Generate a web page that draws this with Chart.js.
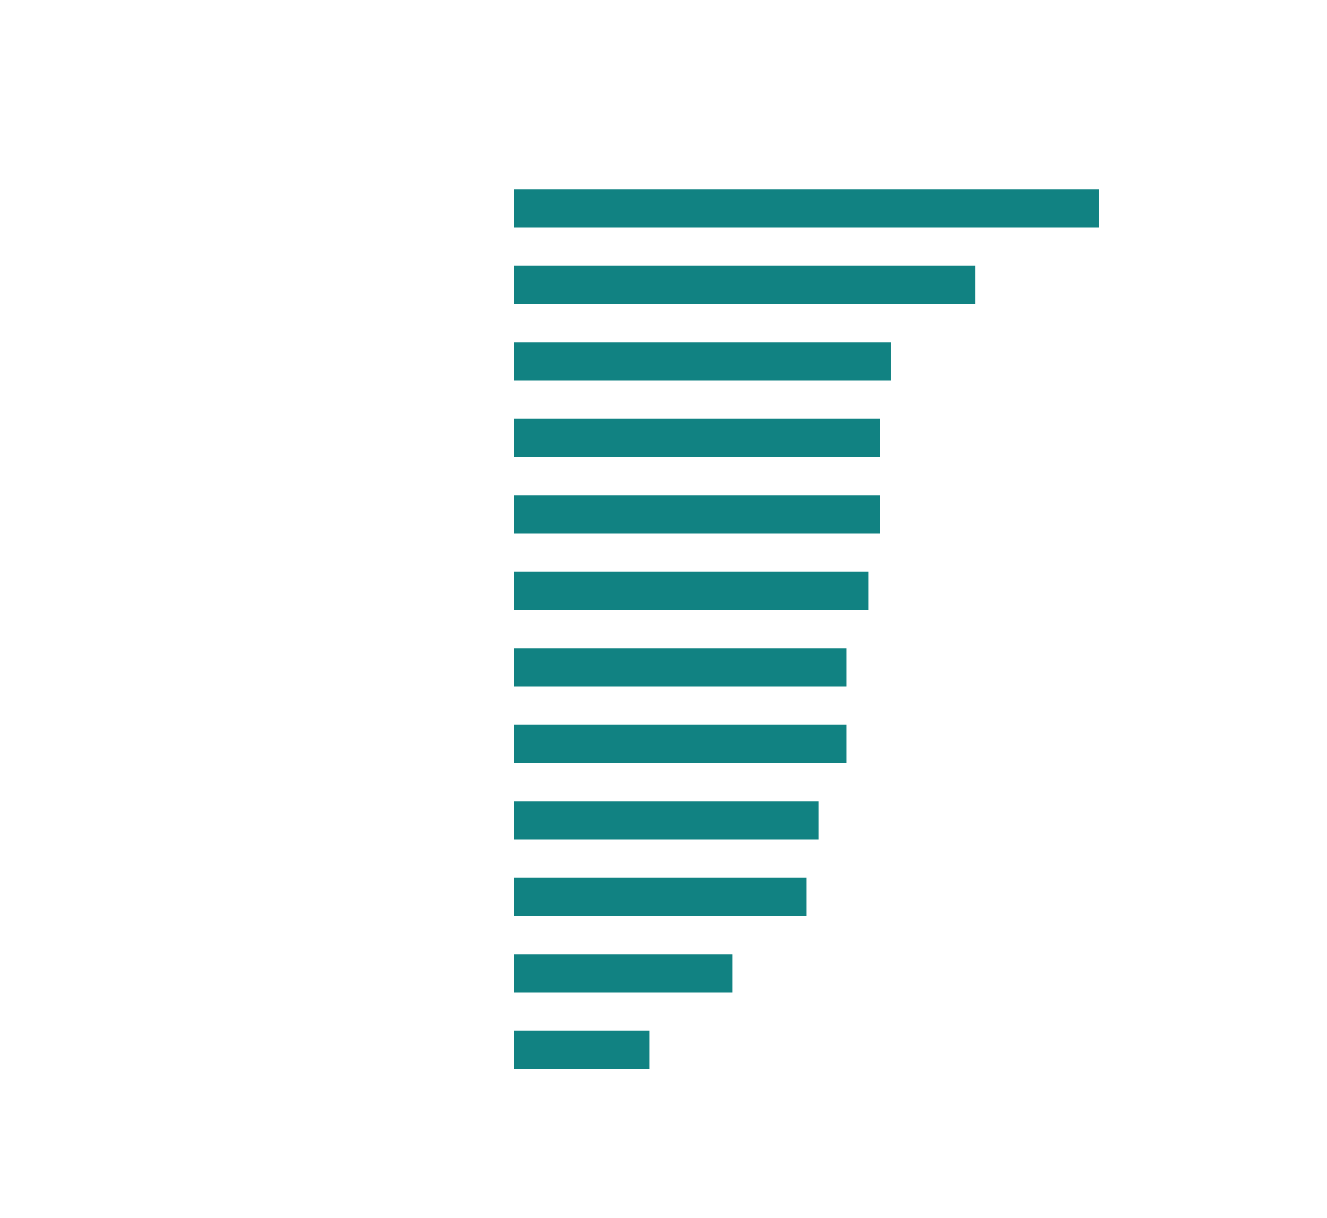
<!DOCTYPE html>
<html>
<head>
<meta charset="utf-8">
<script src="https://cdn.jsdelivr.net/npm/chart.js@4"></script>
<style>
  html, body { margin: 0; padding: 0; background: #ffffff; }
  #box { width: 1327px; height: 1218px; }
</style>
</head>
<body>
<div id="box"><canvas id="bars"></canvas></div>
<script>
// categories (not labelled in the picture)
var categories = ['1', '2', '3', '4', '5', '6', '7', '8', '9', '10', '11', '12'];
// bar values
var values = [47.95, 37.8, 30.9, 30.0, 30.0, 29.05, 27.25, 27.25, 24.97, 23.97, 17.9, 11.1];
var xMax = 50;

var ctx = document.getElementById('bars').getContext('2d');
var chart = new Chart(ctx, {
    type: 'bar',
    data: {
        labels: categories,
        datasets: [{
            data: values,
            backgroundColor: '#118282',
            borderWidth: 0,
            barPercentage: 0.5,
            categoryPercentage: 1.0
        }]
    },
    options: {
        indexAxis: 'y',
        responsive: true,
        maintainAspectRatio: false,
        animation: false,
        layout: {
            padding: { left: 514, right: 203, top: 170, bottom: 130 }
        },
        plugins: {
            legend: { display: false },
            tooltip: { enabled: false }
        },
        scales: {
            x: { display: false, min: 0, max: xMax },
            y: { display: false }
        }
    }
});
</script>
</body>
</html>
